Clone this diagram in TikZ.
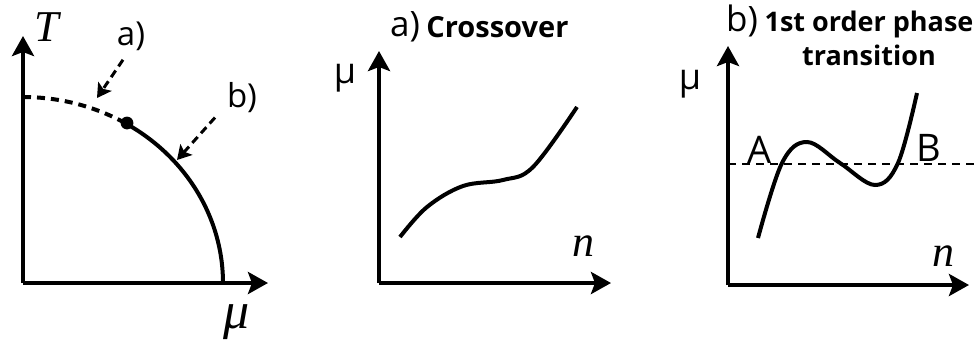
\documentclass[tikz,border=0pt]{standalone}
\usepackage{fontspec}
\setmainfont{Liberation Serif}
\setsansfont{Open Sans}
\usetikzlibrary{arrows.meta}
\begin{document}
\begin{tikzpicture}[x=0.5pt, y=-0.5pt, font=\sffamily,
    axis/.style={line width=2pt, -{Stealth[length=10pt, width=11pt, inset=2pt]}},
    ptr/.style={line width=1.5pt, dash pattern=on 4pt off 2.5pt, -{Stealth[length=7pt, width=8pt, inset=1.5pt]}},
    crv/.style={line width=2pt},
    lbl/.style={inner sep=0pt},
    var/.style={inner sep=0pt, font=\rmfamily\itshape\fontsize{22}{24}\selectfont},
    ttl/.style={inner sep=0pt, font=\sffamily\bfseries\fontsize{13.5}{17}\selectfont}]
        \useasboundingbox (0,0) rectangle (979,343);
        % phase diagram
        \coordinate (o1) at (23,283);
        \coordinate (t1) at (23,36);
        \coordinate (m1) at (268,283);
        \draw[axis] (o1) -- (t1);
        \draw[axis] (o1) -- (m1);
        \node[var] (T) at (47,27) {T};
        \node[var, font=\rmfamily\itshape\fontsize{26}{28}\selectfont] (mu1) at (237,322) {μ};
        \draw[crv, dash pattern=on 4pt off 3pt] plot[domain=90:58.7, samples=30] ({23+200*cos(\x)},{283-186*sin(\x)});
        \draw[crv] plot[domain=58.7:0, samples=50] ({23+200*cos(\x)},{283-186*sin(\x)});
        \fill (127,123) circle (3.2pt) coordinate (cp);
        \node[lbl] (alab) at (131,36) {\fontsize{16.5}{18}\selectfont a)};
        \node[lbl] (blab) at (242,98) {\fontsize{16.5}{18}\selectfont b)};
        \coordinate (ta) at (97,98);
        \coordinate (tb) at (177,160);
        \draw[ptr] ([shift={(-8,9)}]alab.south) -- (ta);
        \draw[ptr] ([shift={(-27,4)}]blab.south) -- (tb);
        % a) crossover
        \coordinate (o2) at (379,283);
        \draw[axis] (o2) -- (379,51);
        \draw[axis] (o2) -- (611,283);
        \node[lbl] (mu2) at (345,78) {\fontsize{18}{20}\selectfont μ};
        \node[var] (n2) at (583,246) {n};
        \node[lbl] (ta2) at (405,27) {\fontsize{17.5}{20}\selectfont a)};
        \node[ttl, font=\sffamily\bfseries\fontsize{14.5}{17}\selectfont, anchor=west] (tt2) at (426,27) {Crossover};
        \draw[crv] plot[smooth, tension=0.6] coordinates {(400,237) (427,207) (463,186) (503,180) (533,167) (577,107)};
        % b) first order
        \coordinate (o3) at (728,285);
        \draw[axis] (o3) -- (728,46);
        \draw[axis] (o3) -- (969,285);
        \node[lbl] (mu3) at (690,84) {\fontsize{18}{20}\selectfont μ};
        \node[var] (n3) at (943,256) {n};
        \node[lbl] (ta3) at (742,21) {\fontsize{17.5}{20}\selectfont b)};
        \node[ttl, align=center] (tt3) at (869,38) {1st order phase\\transition};
        \node[lbl] (A) at (760,150) {\fontsize{19}{21}\selectfont A};
        \node[lbl] (B) at (929,148) {\fontsize{19}{21}\selectfont B};
        \coordinate (eq) at (979,164);
        \draw[line width=1pt, dash pattern=on 4pt off 3pt] (728,164) -- (eq);
        \draw[crv] plot[smooth, tension=0.6] coordinates {(758,238) (782,163) (807,142) (840,163) (875,185) (898,163) (917,93)};
\end{tikzpicture}
\end{document}
